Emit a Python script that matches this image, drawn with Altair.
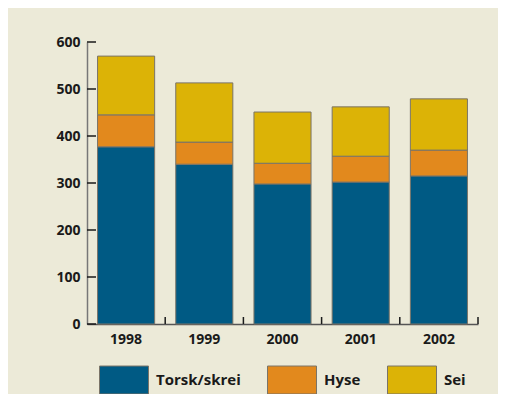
import altair as alt
import pandas as pd

years = ["1998", "1999", "2000", "2001", "2002"]
torsk = [377, 340, 298, 302, 315]
hyse = [68, 47, 44, 55, 55]
sei = [125, 126, 109, 105, 109]
species = ["Torsk/skrei", "Hyse", "Sei"]
colors = ["#005a84", "#e2891d", "#dcb306"]
y_ticks = [0, 100, 200, 300, 400, 500, 600]

rows = []
for i, y in enumerate(years):
    for k, (s, vals) in enumerate(zip(species, [torsk, hyse, sei])):
        rows.append({"year": y, "species": s, "value": vals[i], "order": k})
df = pd.DataFrame(rows)
df_years = pd.DataFrame({"year": years})
df_ticks = pd.DataFrame({"tick": y_ticks})

FONT = "Open Sans"
W, H = 391, 282
P_IN = 0.27
STEP = W / 5

x_scale = alt.Scale(domain=years, paddingInner=P_IN, paddingOuter=P_IN / 2)
y_scale = alt.Scale(domain=[0, 600], nice=False)

bars = alt.Chart(df).mark_bar(stroke="#7a7468", strokeWidth=1).encode(
    x=alt.X("year:N", scale=x_scale, sort=years,
            axis=alt.Axis(title=None, labelAngle=0, ticks=False, labelPadding=8,
                          domainColor="#555555", domainWidth=1.5,
                          labelFont=FONT, labelFontSize=14, labelFontWeight="bold",
                          labelColor="#1a1a1a")),
    y=alt.Y("value:Q", stack="zero", scale=y_scale,
            axis=alt.Axis(title=None, values=y_ticks, ticks=False, labelPadding=7,
                          grid=False, domainColor="#777777", domainWidth=1.5,
                          labelFont=FONT, labelFontSize=14, labelFontWeight="bold",
                          labelColor="#1a1a1a")),
    color=alt.Color("species:N",
                    scale=alt.Scale(domain=species, range=colors),
                    legend=alt.Legend(title=None, orient="none", direction="horizontal",
                                      legendX=12, legendY=313, padding=0,
                                      symbolType="M-1,-0.571H1V0.571H-1Z",
                                      symbolSize=2401, symbolStrokeColor="#7a7468",
                                      symbolStrokeWidth=1, symbolOpacity=1,
                                      labelFont=FONT, labelFontSize=15,
                                      labelFontWeight="bold", labelColor="#1a1a1a",
                                      labelOffset=7, columnPadding=24,
                                      labelLimit=200)),
    order=alt.Order("order:Q"),
)

y_tick_rules = alt.Chart(df_ticks).mark_rule(color="#1a1a1a", strokeWidth=1.5).encode(
    y=alt.Y("tick:Q", scale=y_scale),
    x=alt.value(0),
    x2=alt.value(9),
)

x_tick_rules = alt.Chart(df_years).mark_rule(
    color="#1a1a1a", strokeWidth=1.5, xOffset=STEP * P_IN / 2
).encode(
    x=alt.X("year:N", scale=x_scale, sort=years, bandPosition=1),
    y=alt.value(H),
    y2=alt.value(H - 7),
)

chart = alt.layer(bars, y_tick_rules, x_tick_rules).properties(
    width=W, height=H,
    autosize=alt.AutoSizeParams(type="none"),
    padding={"left": 79, "top": 34, "right": 20, "bottom": 70},
    background="#ecead8",
).configure_view(stroke=None)

chart.save("out.html", embed_options={"renderer": "svg", "actions": False})
